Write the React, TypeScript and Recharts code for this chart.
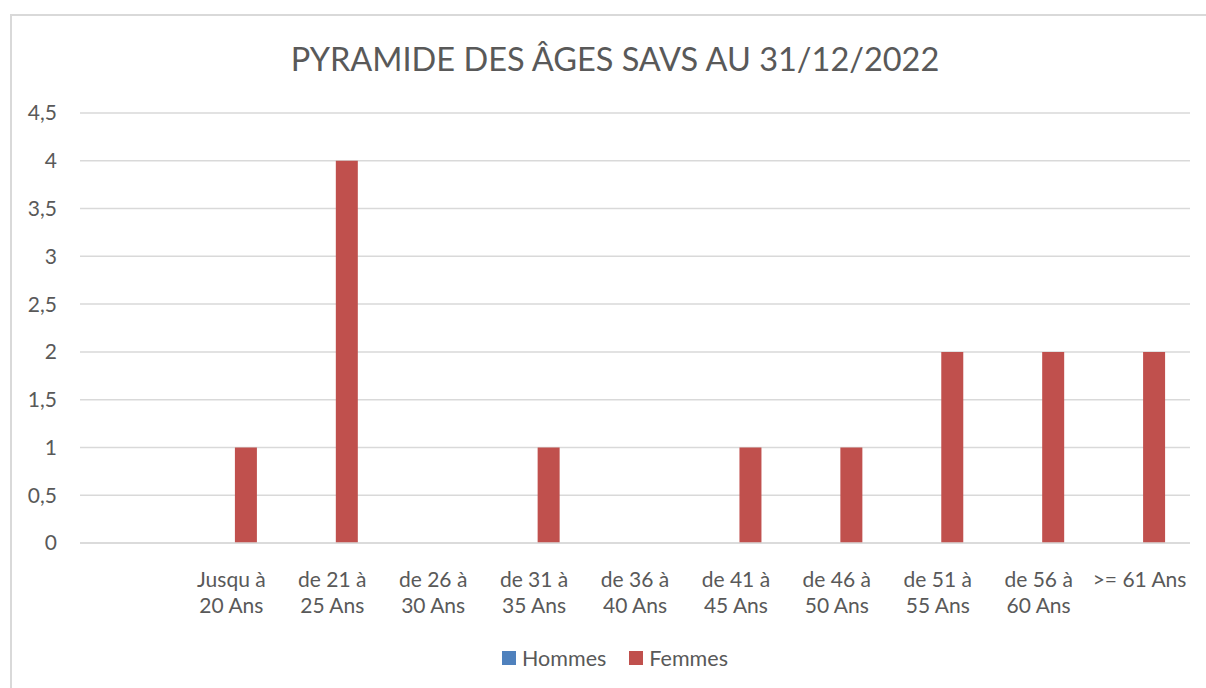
import React from 'react';
import { BarChart, Bar, XAxis, YAxis, CartesianGrid, Legend } from 'recharts';

const categories = [
  '',
  'Jusqu à 20 Ans',
  'de 21 à 25 Ans',
  'de 26 à 30 Ans',
  'de 31 à 35 Ans',
  'de 36 à 40 Ans',
  'de 41 à 45 Ans',
  'de 46 à 50 Ans',
  'de 51 à 55 Ans',
  'de 56 à 60 Ans',
  '>= 61 Ans',
];
const hommes = [null, 0, 0, 0, 0, 0, 0, 0, 0, 0, 0];
const femmes = [null, 1, 4, 0, 1, 0, 1, 1, 2, 2, 2];
const yTicks = [0, 0.5, 1, 1.5, 2, 2.5, 3, 3.5, 4, 4.5];
const title = 'PYRAMIDE DES ÂGES SAVS AU 31/12/2022';

const data = categories.map((c, i) => ({ cat: c, Hommes: hommes[i], Femmes: femmes[i] }));

const FONT = 'Lato, "Open Sans", sans-serif';
const TEXT = '#595959';

const XTick = (props: any) => {
  const { x, y, payload } = props;
  const v: string = payload.value || '';
  const idx = v.indexOf(' à ');
  const lines = idx >= 0 ? [v.slice(0, idx + 2), v.slice(idx + 3)] : [v];
  return (
    <g>
      {lines.map((l, i) => (
        <text key={i} x={x} y={y + 36 + i * 26} textAnchor="middle" fill={TEXT} fontSize={21} fontFamily={FONT}>
          {l}
        </text>
      ))}
    </g>
  );
};

const LegendContent = () => (
  <div style={{ display: 'flex', justifyContent: 'center', alignItems: 'center', fontFamily: FONT, fontSize: 21.5, color: TEXT }}>
    <span style={{ display: 'inline-block', width: 14, height: 14, background: '#4F81BD', marginRight: 6 }} />
    <span style={{ marginRight: 23 }}>Hommes</span>
    <span style={{ display: 'inline-block', width: 14, height: 14, background: '#C0504D', marginRight: 6 }} />
    <span>Femmes</span>
  </div>
);

export default function App() {
  return (
    <div style={{ position: 'fixed', left: 0, top: 0, width: 1206, height: 688, background: '#fff', overflow: 'hidden' }}>
      <div style={{ position: 'absolute', left: 10, top: 14, width: 1300, height: 800, border: '2px solid #D9D9D9', boxSizing: 'border-box' }} />
      <div style={{ position: 'absolute', left: 0, top: 39, width: 1230, textAlign: 'center', fontFamily: FONT, fontSize: 32.5, color: TEXT }}>
        {title}
      </div>
      <div style={{ position: 'absolute', left: 0, top: 0 }}>
        <BarChart width={1206} height={688} data={data} margin={{ top: 113, right: 16, left: 0, bottom: 0 }} barSize={22} barGap={7}>
          <CartesianGrid vertical={false} stroke="#D9D9D9" strokeWidth={1.5} />
          <XAxis dataKey="cat" height={145} axisLine={{ stroke: '#D9D9D9', strokeWidth: 1.5 }} tickLine={false} tick={<XTick />} interval={0} />
          <YAxis
            width={80}
            domain={[0, 4.5]}
            ticks={yTicks}
            axisLine={false}
            tickLine={false}
            tickMargin={17}
            tickFormatter={(v: number) => String(v).replace('.', ',')}
            tick={{ fill: TEXT, fontSize: 21, fontFamily: FONT }}
          />
          <Legend verticalAlign="middle" layout="horizontal" wrapperStyle={{ top: 645, left: 0, width: 1230 }} content={<LegendContent />} />
          <Bar dataKey="Hommes" fill="#4F81BD" isAnimationActive={false} />
          <Bar dataKey="Femmes" fill="#C0504D" isAnimationActive={false} />
        </BarChart>
      </div>
    </div>
  );
}
